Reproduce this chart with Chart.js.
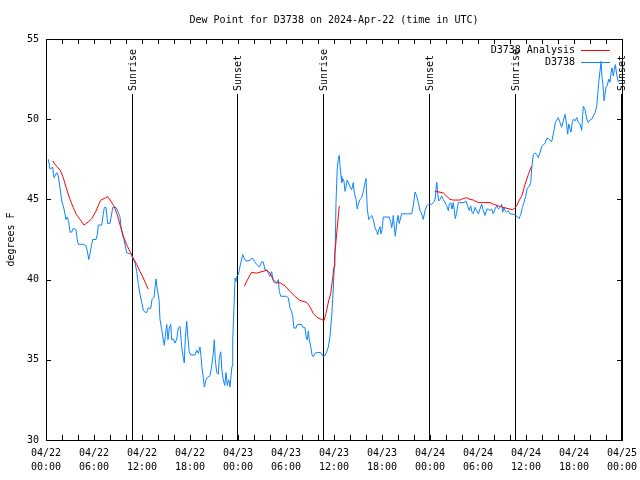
<!DOCTYPE html>
<html>
<head>
<meta charset="utf-8">
<title>Dew Point for D3738</title>
<script src="https://cdn.jsdelivr.net/npm/chart.js@4.4.1/dist/chart.umd.min.js"></script>
<style>
  html, body { margin: 0; padding: 0; background: #fff; }
  canvas { display: block; }
</style>
</head>
<body>
<canvas id="dew-chart" width="640" height="480"></canvas>
<script>
// hours since 04/22 00:00 UTC
const obsHours = [0.29, 0.5, 0.84, 1.0, 1.34, 1.54, 1.84, 1.96, 2.09, 2.25, 2.5, 2.66, 2.84, 3.0, 3.21, 3.41, 3.75, 3.91, 4.04, 4.66,
    5.0, 5.16, 5.34, 5.5, 5.71, 5.84, 6.25, 6.41, 6.54, 6.96, 7.16, 7.29, 7.5, 7.71, 8.0, 8.21, 8.34, 8.75, 9.04, 9.25,
    9.38, 9.59, 9.75, 9.91, 10.09, 10.59, 10.84, 11.13, 11.34, 11.54, 11.75, 11.96, 12.16, 12.38, 12.59, 12.79, 13.09, 13.25, 13.5, 13.75,
    13.91, 14.13, 14.25, 14.46, 14.66, 14.79, 14.91, 15.09, 15.25, 15.41, 15.59, 15.71, 15.91, 16.13, 16.34, 16.54, 16.75, 16.96, 17.16, 17.29,
    17.41, 17.59, 17.75, 17.91, 18.09, 18.63, 18.84, 19.04, 19.25, 19.38, 19.5, 19.66, 19.79, 20.0, 20.16, 20.5, 20.71, 20.91, 21.04, 21.16,
    21.34, 21.54, 21.66, 21.84, 22.0, 22.16, 22.34, 22.5, 22.66, 22.84, 23.0, 23.13, 23.25, 23.34, 23.5, 23.63, 23.75, 23.84, 24.04, 24.16,
    24.34, 24.59, 24.75, 25.0, 25.5, 25.79, 26.04, 26.34, 26.66, 26.96, 27.16, 27.38, 27.59, 27.79, 28.0, 28.21, 28.41, 28.54, 28.84, 29.04,
    29.16, 29.34, 30.09, 30.29, 30.5, 30.71, 30.84, 31.0, 31.25, 31.41, 31.96, 32.16, 32.38, 32.5, 32.66, 32.79, 32.91, 33.09, 33.25, 33.41,
    33.63, 33.84, 34.34, 34.5, 34.75, 34.91, 35.09, 35.29, 35.5, 35.71, 35.91, 36.04, 36.16, 36.25, 36.41, 36.54, 36.66, 36.75, 36.88, 36.96,
    37.09, 37.25, 37.38, 37.5, 37.66, 37.79, 38.0, 38.21, 38.41, 38.54, 38.75, 38.91, 39.04, 39.25, 39.46, 39.66, 39.88, 40.0, 40.16, 40.34,
    40.5, 40.71, 40.91, 41.13, 41.34, 41.46, 41.59, 41.75, 41.88, 42.0, 42.16, 42.91, 43.09, 43.21, 43.34, 43.41, 43.54, 43.66, 43.84, 44.0,
    44.16, 44.34, 44.46, 45.71, 45.91, 46.13, 46.34, 46.54, 46.75, 46.96, 47.16, 47.38, 47.59, 47.79, 48.21, 48.41, 48.63, 48.84, 48.96, 49.09,
    49.25, 49.46, 49.66, 49.88, 50.09, 50.29, 50.41, 50.59, 50.75, 50.91, 51.04, 51.16, 51.34, 51.54, 52.25, 52.5, 52.71, 52.91, 53.09, 53.25,
    53.41, 53.63, 53.84, 54.04, 54.25, 54.46, 54.66, 54.88, 55.09, 55.29, 55.5, 55.71, 55.91, 56.13, 56.34, 56.54, 56.75, 56.96, 57.09, 57.25,
    57.38, 57.59, 57.79, 58.0, 58.63, 58.84, 59.13, 59.34, 59.54, 59.75, 59.96, 60.16, 60.38, 60.59, 60.71, 60.91, 61.13, 61.34, 61.54, 61.75,
    61.96, 62.16, 62.38, 62.59, 62.79, 63.0, 63.21, 63.41, 63.54, 63.66, 63.84, 64.04, 64.25, 64.46, 64.66, 64.88, 65.09, 65.21, 65.34, 65.5,
    65.63, 65.75, 65.91, 66.13, 66.34, 66.54, 66.75, 66.96, 67.09, 67.16, 67.38, 67.59, 67.79, 68.0, 68.21, 68.41, 68.63, 68.84, 68.96, 69.09,
    69.25, 69.38, 69.5, 69.63, 69.75, 69.88, 70.0, 70.16, 70.34, 70.5, 70.63, 70.75, 70.91, 71.04, 71.16, 71.34, 71.54];
const obsDew = [47.5, 46.9, 47.0, 46.35, 46.67, 46.46, 45.4, 44.9, 44.7, 44.4, 43.75, 43.9, 43.6, 42.96, 42.96, 43.2, 43.1, 42.5, 42.2, 42.2,
    42.1, 41.8, 41.25, 41.6, 42.2, 42.5, 42.5, 42.8, 43.4, 43.4, 44.06, 44.5, 44.5, 43.5, 43.5, 44.1, 44.5, 44.5, 44.2, 43.9,
    43.3, 42.7, 42.5, 42.1, 41.67, 41.6, 41.35, 41.04, 40.5, 39.7, 39.1, 38.6, 38.1, 37.96, 37.96, 38.23, 38.2, 38.75, 38.9, 40.04,
    39.4, 38.75, 37.5, 36.9, 36.25, 35.9, 36.46, 37.2, 36.25, 36.98, 37.2, 36.25, 36.3, 36.04, 36.3, 36.98, 37.08, 35.83, 35.1, 34.8,
    36.3, 37.4, 36.3, 35.5, 35.3, 35.3, 35.6, 35.4, 35.8, 35.2, 34.5, 33.9, 33.3, 33.75, 33.9, 34.0, 34.6, 35.4, 36.25, 35.0,
    34.2, 34.1, 35.1, 35.5, 34.3, 33.75, 33.4, 34.2, 33.4, 33.75, 33.3, 34.0, 34.6, 36.25, 38.3, 40.1, 39.9, 40.2, 40.3, 40.6,
    41.04, 41.56, 41.35, 41.15, 41.2, 41.35, 41.15, 40.94, 40.8, 41.1, 41.1, 40.6, 40.6, 40.4, 40.2, 40.5, 39.9, 39.8, 39.8, 40.0,
    39.27, 38.96, 38.96, 38.85, 38.23, 38.0, 37.7, 36.98, 36.98, 37.2, 37.2, 37.0, 37.0, 36.46, 36.25, 36.8, 36.25, 35.83, 35.3, 35.2,
    35.4, 35.45, 35.45, 35.3, 35.2, 35.3, 35.5, 35.8, 36.46, 37.7, 39.4, 40.8, 42.1, 44.8, 47.0, 47.5, 47.75, 47.1, 46.46, 46.04,
    46.3, 46.1, 45.5, 45.8, 46.2, 46.04, 45.8, 45.6, 46.04, 45.4, 45.0, 44.4, 44.7, 45.0, 45.1, 45.5, 46.04, 46.3, 44.4, 43.75,
    43.85, 44.0, 43.75, 43.23, 43.0, 42.8, 43.1, 43.3, 42.85, 43.1, 43.9, 43.9, 43.6, 43.23, 43.6, 44.0, 43.3, 42.7, 43.5, 44.0,
    43.5, 43.9, 44.1, 44.1, 44.6, 45.46, 45.2, 44.8, 44.3, 44.1, 43.75, 44.3, 44.6, 44.7, 44.7, 44.8, 45.0, 46.08, 45.4, 44.9,
    45.0, 45.2, 45.0, 44.8, 44.6, 44.3, 44.7, 44.8, 44.4, 44.8, 44.3, 43.8, 44.2, 44.8, 44.8, 44.9, 44.6, 44.3, 44.6, 44.2,
    44.1, 44.5, 44.3, 44.1, 44.4, 44.7, 44.3, 44.0, 44.4, 44.4, 44.3, 44.4, 44.1, 44.4, 44.6, 44.4, 44.5, 44.7, 44.2, 44.5,
    44.3, 44.2, 44.3, 44.1, 44.06, 43.96, 43.8, 44.06, 44.5, 44.8, 45.2, 45.7, 45.8, 46.04, 46.9, 47.8, 47.9, 47.8, 47.6, 47.9,
    48.3, 48.4, 48.5, 48.8, 48.8, 48.7, 48.6, 49.06, 49.4, 49.8, 49.95, 50.1, 49.8, 49.5, 49.9, 50.3, 49.6, 49.06, 49.7, 49.4,
    49.2, 49.7, 50.0, 49.9, 50.1, 49.8, 49.7, 49.3, 50.3, 50.8, 50.6, 50.0, 49.8, 49.95, 50.0, 50.2, 50.4, 50.8, 51.46, 52.3,
    53.0, 53.6, 52.6, 52.1, 51.15, 51.56, 52.0, 52.1, 52.5, 52.3, 52.9, 53.2, 52.7, 53.1, 53.4, 52.8, 52.3];

// analysis series, null = no analysis
const anaHours = [0.84, 1.1, 1.8, 2.16, 2.6, 3.0, 3.4, 3.8, 4.25, 4.75, 5.3, 5.7, 6.25, 6.8, 7.3, 7.7, 8.1, 8.5, 8.9, 9.3,
    9.75, 10.16, 10.6, 10.9, 11.34, 11.75, 12.16, 12.5, 12.8, 18.0,
    24.8, 25.3, 25.7, 26.3, 27.0, 27.6, 28.0, 28.4, 28.8, 29.25, 29.9, 30.5, 31.1, 31.75, 32.6, 33.0, 33.4, 33.84, 34.25, 34.75,
    35.0, 35.3, 35.6, 35.84, 36.0, 36.1, 36.34, 36.66, 42.0,
    48.6, 49.25, 49.66, 50.09, 50.5, 50.9, 51.75, 52.16, 52.59, 53.0, 53.41, 54.04, 54.66, 55.5, 55.91, 56.54, 57.16, 58.0, 58.3, 58.6,
    58.84, 59.1, 59.46, 59.88, 60.3, 60.7];
const anaDew = [47.4, 47.2, 46.8, 46.35, 45.6, 45.0, 44.5, 44.06, 43.75, 43.4, 43.6, 43.8, 44.27, 44.94, 45.06, 45.17, 44.9, 44.58, 44.06, 43.33,
    42.6, 42.08, 41.67, 41.35, 40.94, 40.5, 40.1, 39.7, 39.4, null,
    39.6, 40.1, 40.46, 40.4, 40.5, 40.58, 40.4, 40.0, 39.8, 39.8, 39.6, 39.27, 38.96, 38.7, 38.58, 38.3, 37.9, 37.67, 37.56, 37.44,
    37.9, 38.6, 39.17, 40.1, 40.8, 41.56, 42.9, 44.6, null,
    45.5, 45.45, 45.4, 45.2, 45.0, 44.96, 44.96, 45.06, 45.1, 45.0, 44.96, 44.8, 44.8, 44.8, 44.7, 44.6, 44.5, 44.4, 44.35, 44.45,
    44.6, 44.9, 45.2, 45.94, 46.56, 47.08];

const sunHours = [10.79, 23.88, 34.6, 47.9, 58.6, 71.9];
const sunLabels = ['Sunrise', 'Sunset', 'Sunrise', 'Sunset', 'Sunrise', 'Sunset'];

const xTickLabels = ['04/22', '04/22', '04/22', '04/22', '04/23', '04/23', '04/23', '04/23', '04/24', '04/24', '04/24', '04/24', '04/25'];
const xTickTimes = ['00:00', '06:00', '12:00', '18:00'];

const MONO = '"DejaVu Sans Mono", "Liberation Mono", monospace';
const obsColor = '#0a84ff';
const anaColor = '#ff0000';

function toPoints(xs, ys) {
    return xs.map((x, i) => ({ x: x, y: ys[i] }));
}

// gnuplot-ish frame, inward ticks, sunrise/sunset markers, title and legend
const framePlugin = {
    id: 'frame',
    beforeDatasetsDraw(chart) {
        const ctx = chart.ctx;
        const a = chart.chartArea;
        const xs = chart.scales.x;
        ctx.save();
        ctx.strokeStyle = '#000';
        ctx.lineWidth = 1;
        ctx.fillStyle = '#000';
        ctx.font = '10px ' + MONO;
        sunHours.forEach((h, i) => {
            const px = Math.round(xs.getPixelForValue(h)) + 0.5;
            ctx.beginPath();
            ctx.moveTo(px, a.top + 55);
            ctx.lineTo(px, a.bottom);
            ctx.stroke();
            ctx.save();
            ctx.translate(px, a.top + 52);
            ctx.rotate(-Math.PI / 2);
            ctx.textAlign = 'left';
            ctx.textBaseline = 'middle';
            ctx.fillText(sunLabels[i], 0, 1);
            ctx.restore();
        });
        ctx.restore();
    },
    afterDraw(chart) {
        const ctx = chart.ctx;
        const a = chart.chartArea;
        const xs = chart.scales.x;
        const ys = chart.scales.y;
        ctx.save();
        ctx.strokeStyle = '#000';
        ctx.lineWidth = 1;
        ctx.strokeRect(Math.round(a.left) + 0.5, Math.round(a.top) + 0.5,
            Math.round(a.right - a.left), Math.round(a.bottom - a.top));
        ctx.beginPath();
        for (let h = 2; h < 72; h += 2) {
            const px = Math.round(xs.getPixelForValue(h)) + 0.5;
            ctx.moveTo(px, a.bottom); ctx.lineTo(px, a.bottom - 5);
            ctx.moveTo(px, a.top); ctx.lineTo(px, a.top + 5);
        }
        for (let v = 35; v < 55; v += 5) {
            const py = Math.round(ys.getPixelForValue(v)) + 0.5;
            ctx.moveTo(a.left, py); ctx.lineTo(a.left + 5, py);
            ctx.moveTo(a.right, py); ctx.lineTo(a.right - 5, py);
        }
        ctx.stroke();

        ctx.fillStyle = '#000';
        ctx.font = '10px ' + MONO;
        ctx.textAlign = 'center';
        ctx.textBaseline = 'middle';
        ctx.fillText('Dew Point for D3738 on 2024-Apr-22 (time in UTC)', (a.left + a.right) / 2, 20);

        ctx.save();
        ctx.translate(11, (a.top + a.bottom) / 2);
        ctx.rotate(-Math.PI / 2);
        ctx.fillText('degrees F', 0, 0);
        ctx.restore();

        // legend
        const legend = [['D3738 Analysis', anaColor], ['D3738', obsColor]];
        ctx.textAlign = 'right';
        legend.forEach((item, i) => {
            const ly = a.top + 11 + i * 12;
            ctx.fillStyle = '#000';
            ctx.fillText(item[0], a.right - 47, ly);
            ctx.strokeStyle = item[1];
            ctx.beginPath();
            ctx.moveTo(a.right - 41, ly + 0.5);
            ctx.lineTo(a.right - 12, ly + 0.5);
            ctx.stroke();
        });
        ctx.restore();
    }
};

const ctx = document.getElementById('dew-chart').getContext('2d');
const dewChart = new Chart(ctx, {
    type: 'line',
    data: {
        datasets: [{
            label: 'D3738 Analysis',
            data: toPoints(anaHours, anaDew),
            borderColor: anaColor,
            borderWidth: 1,
            pointRadius: 0,
            spanGaps: false,
            tension: 0
        },
        {
            label: 'D3738',
            data: toPoints(obsHours, obsDew),
            borderColor: obsColor,
            borderWidth: 1,
            pointRadius: 0,
            tension: 0
        }]
    },
    options: {
        responsive: false,
        animation: false,
        devicePixelRatio: 1,
        layout: { padding: { top: 39, right: 18, left: 0, bottom: 0 } },
        plugins: {
            legend: { display: false },
            title: { display: false },
            tooltip: { enabled: false }
        },
        scales: {
            x: {
                type: 'linear',
                min: 0,
                max: 72,
                grid: { display: false, drawTicks: false },
                border: { display: false },
                ticks: {
                    stepSize: 6,
                    autoSkip: false,
                    maxRotation: 0,
                    padding: 6,
                    color: '#000',
                    font: { family: MONO, size: 10, lineHeight: 1.4 },
                    callback: function (value) {
                        const i = Math.round(value / 6);
                        return [xTickLabels[i], xTickTimes[i % 4]];
                    }
                },
                afterFit: function (scale) {
                    scale.height = 40;
                    scale.paddingLeft = 0;
                    scale.paddingRight = 0;
                }
            },
            y: {
                min: 30,
                max: 55,
                grid: { display: false, drawTicks: false },
                border: { display: false },
                ticks: {
                    stepSize: 5,
                    padding: 7,
                    color: '#000',
                    font: { family: MONO, size: 10 }
                },
                afterFit: function (scale) {
                    scale.width = 46;
                    scale.paddingTop = 0;
                    scale.paddingBottom = 0;
                }
            }
        }
    },
    plugins: [framePlugin]
});
</script>
</body>
</html>
